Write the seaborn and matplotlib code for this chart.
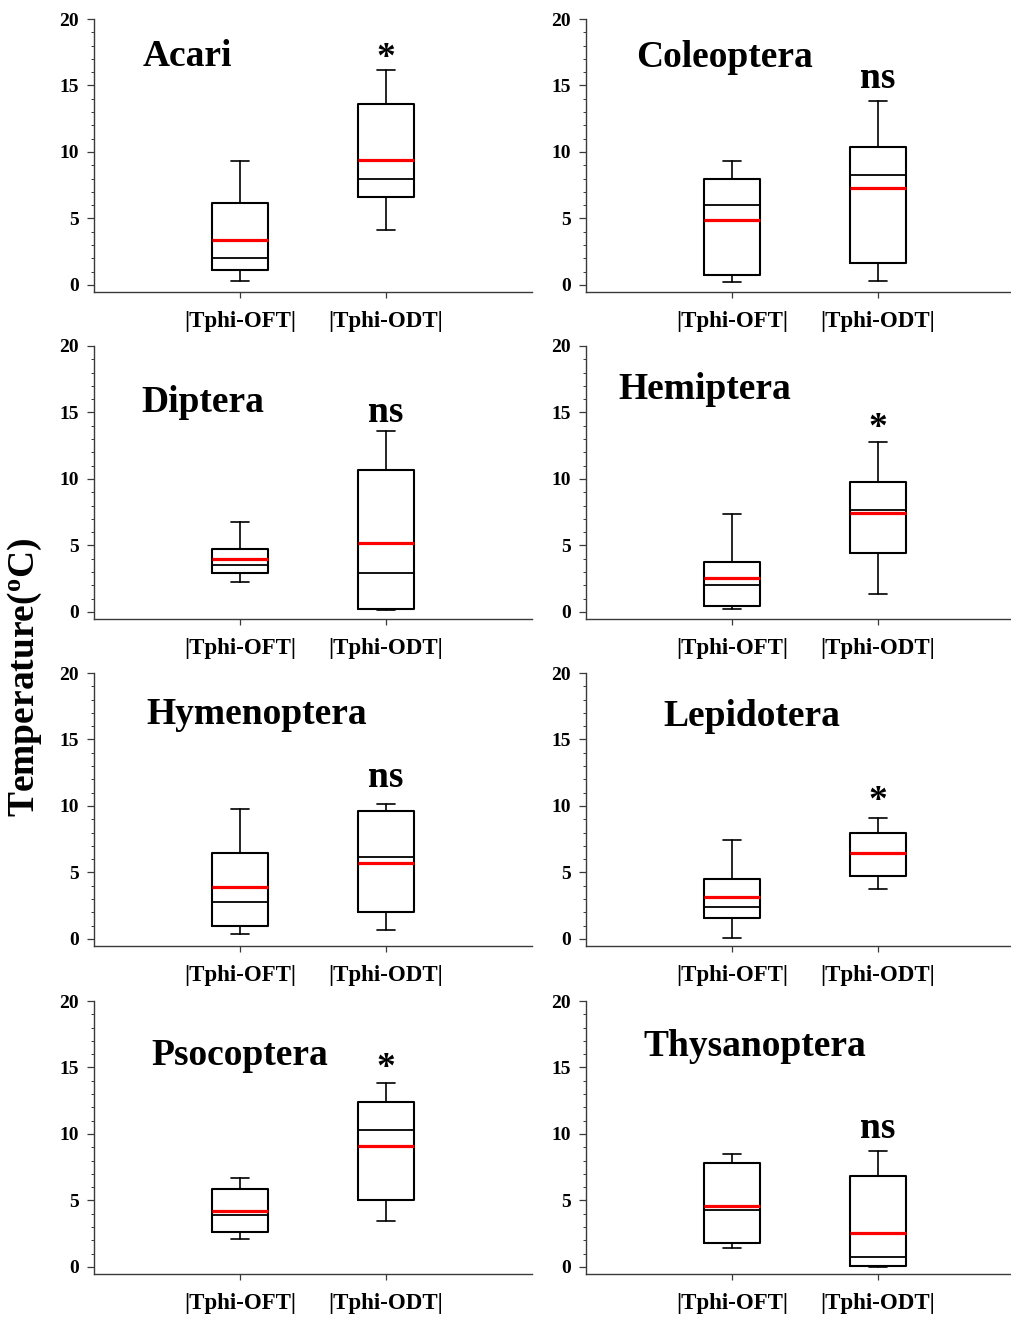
import matplotlib
matplotlib.use("Agg")
import matplotlib.pyplot as plt
import seaborn as sns

# Summary statistics per order: [whisker low, Q1, median, Q3, whisker high, mean]
groups = ["|Tphi-OFT|", "|Tphi-ODT|"]
orders = ["Acari", "Coleoptera", "Diptera", "Hemiptera",
          "Hymenoptera", "Lepidotera", "Psocoptera", "Thysanoptera"]

acari_oft = [0.3, 1.15, 2.0, 6.2, 9.3, 3.4]
acari_odt = [4.1, 6.6, 8.0, 13.6, 16.2, 9.4]
coleoptera_oft = [0.2, 0.75, 6.0, 8.0, 9.35, 4.86]
coleoptera_odt = [0.3, 1.68, 8.27, 10.4, 13.8, 7.3]
diptera_oft = [2.23, 2.9, 3.53, 4.75, 6.75, 3.98]
diptera_odt = [0.15, 0.25, 2.93, 10.7, 13.6, 5.15]
hemiptera_oft = [0.23, 0.48, 2.0, 3.73, 7.4, 2.53]
hemiptera_odt = [1.38, 4.43, 7.63, 9.78, 12.8, 7.43]
hymenoptera_oft = [0.35, 1.0, 2.78, 6.49, 9.77, 3.93]
hymenoptera_odt = [0.65, 2.03, 6.17, 9.62, 10.13, 5.74]
lepidotera_oft = [0.08, 1.6, 2.43, 4.54, 7.42, 3.13]
lepidotera_odt = [3.73, 4.76, 6.49, 8.0, 9.1, 6.49]
psocoptera_oft = [2.13, 2.63, 3.88, 5.88, 6.68, 4.18]
psocoptera_odt = [3.48, 5.0, 10.3, 12.4, 13.83, 9.08]
thysanoptera_oft = [1.43, 1.8, 4.3, 7.8, 8.48, 4.6]
thysanoptera_odt = [0.0, 0.05, 0.78, 6.83, 8.75, 2.58]

stats_by_order = [
    (acari_oft, acari_odt), (coleoptera_oft, coleoptera_odt),
    (diptera_oft, diptera_odt), (hemiptera_oft, hemiptera_odt),
    (hymenoptera_oft, hymenoptera_odt), (lepidotera_oft, lepidotera_odt),
    (psocoptera_oft, psocoptera_odt), (thysanoptera_oft, thysanoptera_odt),
]

signif = ["*", "ns", "ns", "*", "ns", "*", "*", "ns"]
signif_y = [16.3, 14.8, 14.3, 13.1, 11.4, 9.6, 14.2, 9.7]
title_xy = [(0.336, 16.5), (0.342, 16.4), (0.322, 15.0), (0.219, 16.0),
            (0.356, 16.2), (0.527, 16.0), (0.39, 15.2), (0.39, 15.9)]

sns.set_theme(style="ticks")
plt.rcParams["font.family"] = ["Liberation Serif", "DejaVu Serif"]
plt.rcParams["font.weight"] = "bold"
plt.rcParams["text.color"] = "black"
plt.rcParams["xtick.labelcolor"] = "black"
plt.rcParams["ytick.labelcolor"] = "black"
plt.rcParams["mathtext.fontset"] = "custom"
plt.rcParams["mathtext.rm"] = "Liberation Serif:bold"
plt.rcParams["mathtext.bf"] = "Liberation Serif:bold"
plt.rcParams["mathtext.it"] = "Liberation Serif:bold"

fig = plt.figure(figsize=(10.11, 13.17), dpi=100)

W, H = 1011, 1317
lefts = [94, 586]
bottoms = [292, 619, 946, 1274]
ax_w, ax_h = 438, 273
spine_col = "#3a3a3a"

for i, name in enumerate(orders):
    r, c = divmod(i, 2)
    l = lefts[c] / W
    b = (H - bottoms[r]) / H
    ax = fig.add_axes([l, b, ax_w / W, ax_h / H])
    ax.patch.set_alpha(0)
    oft, odt = stats_by_order[i]
    bxp_stats = []
    for lab, s in zip(groups, (oft, odt)):
        bxp_stats.append(dict(label=lab, whislo=s[0], q1=s[1], med=s[2],
                              q3=s[3], whishi=s[4], mean=s[5], fliers=[]))
    ax.bxp(bxp_stats, positions=[1, 2], widths=0.39, capwidths=0.12,
           showmeans=True, meanline=True, showfliers=False, patch_artist=False,
           boxprops=dict(color="black", linewidth=1.5),
           whiskerprops=dict(color="black", linewidth=1.2),
           capprops=dict(color="black", linewidth=1.2),
           medianprops=dict(color="black", linewidth=1.3),
           meanprops=dict(color="#ff0000", linewidth=2.3, linestyle="-"))
    ax.set_xlim(0, 3)
    ax.set_ylim(-0.53, 20)
    ax.set_xticks([1, 2])
    ax.set_xticklabels(groups, fontsize=16.5, fontweight="bold", color="black")
    ax.set_yticks([0, 5, 10, 15, 20])
    ax.set_yticklabels(["0", "5", "10", "15", "20"], fontsize=14,
                       fontweight="bold", color="black")
    ax.set_yticks(range(0, 21), minor=True)
    ax.tick_params(axis="y", which="major", direction="out", length=5,
                   width=0.9, color=spine_col, pad=6)
    ax.tick_params(axis="y", which="minor", direction="out", length=2.5,
                   width=0.7, color=spine_col)
    ax.tick_params(axis="x", which="major", direction="out", length=4,
                   width=0.9, color=spine_col, pad=10)
    for side in ("top", "right"):
        ax.spines[side].set_visible(False)
    for side in ("left", "bottom"):
        ax.spines[side].set_color(spine_col)
        ax.spines[side].set_linewidth(1.0)
    tx, ty = title_xy[i]
    ax.text(tx, ty, name, fontsize=27, fontweight="bold", ha="left",
            va="baseline", color="black")
    ax.text(2, signif_y[i], signif[i], fontsize=27, fontweight="bold",
            ha="center", va="baseline", color="black")
    ax.set_xlabel("")
    ax.set_ylabel("")

fig.text(25 / W, 1 - 677 / H, r"Temperature($\mathbf{^o}$C)", fontsize=27,
         fontweight="bold", rotation=90, ha="center", va="center",
         color="black")

fig.savefig("out.png", dpi=100)
